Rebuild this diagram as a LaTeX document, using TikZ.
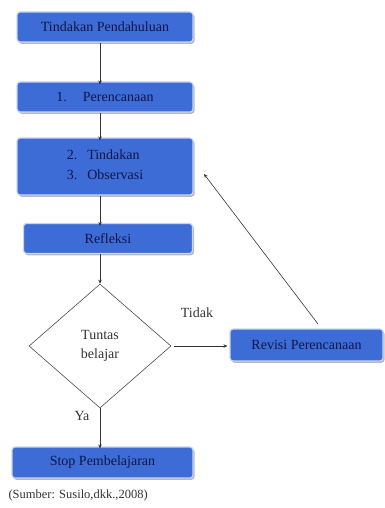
\documentclass[tikz,border=0pt]{standalone}
\usepackage{fontspec}
\setmainfont{Liberation Serif}
\usetikzlibrary{shapes.geometric,shadows,arrows.meta}
\definecolor{boxblue}{RGB}{62,108,214}
\definecolor{boxedge}{RGB}{200,212,242}
\definecolor{navy}{RGB}{14,22,70}
\begin{document}
\begin{tikzpicture}[x=1pt,y=-1pt,
  bluebox/.style={rectangle,rounded corners=3pt,fill=boxblue,draw=boxedge,line width=1.2pt,
    text=navy,font=\fontsize{14}{16}\selectfont,inner sep=0pt,
    drop shadow={shadow xshift=1.5pt,shadow yshift=-1.8pt,fill=black!35,opacity=0.8}},
  conn/.style={draw=black!80,line width=0.6pt,-{Stealth[length=4pt,width=3.5pt]}},
  lbl/.style={font=\fontsize{14}{19}\selectfont,text=black!80}]
\useasboundingbox (0,0) rectangle (385,508);
\node[bluebox,minimum width=176pt,minimum height=30pt] (b1) at (105,27) {Tindakan Pendahuluan};
\node[bluebox,minimum width=176pt,minimum height=30pt] (b2) at (105,97) {1.\hspace{16pt}Perencanaan};
\node[bluebox,minimum width=176pt,minimum height=57pt] (b3) at (105,166.5)
  {\begin{tabular}{@{}l@{\hspace{10pt}}l@{}}2. & Tindakan\\[4pt] 3. & Observasi\end{tabular}};
\node[bluebox,minimum width=169pt,minimum height=30pt] (b4) at (108,238.5) {Refleksi};
\node[diamond,draw=black!70,line width=0.6pt,fill=white,minimum width=142pt,minimum height=124pt,
  inner sep=0pt,align=center,lbl] (d) at (100,346) {Tuntas\\belajar};
\node[bluebox,minimum width=153pt,minimum height=32pt] (rev) at (306.5,345) {Revisi Perencanaan};
\node[bluebox,minimum width=181pt,minimum height=31pt] (stop) at (102.5,462.5) {Stop Pembelajaran};
\node[lbl] (tidak) at (197,313) {Tidak};
\node[lbl] (ya) at (82,416) {Ya};
\node[lbl,anchor=west,font=\fontsize{12.5}{14}\selectfont] (src) at (5,495) {(Sumber: Susilo,dkk.,2008)};
\coordinate (back) at (204,174);
\coordinate (revtop) at (318,324);
\draw[conn] (b1.south -| d.north) -- ([yshift=-3pt]b2.north -| d.north);
\draw[conn] (b2.south -| d.north) -- ([yshift=-3pt]b3.north -| d.north);
\draw[conn] (b3.south -| d.north) -- ([yshift=-3pt]b4.north -| d.north);
\draw[conn] (b4.south -| d.north) -- (d.north);
\draw[conn] ([xshift=3pt]d.east) -- ([xshift=-2pt]d.east -| rev.west);
\draw[conn] (d.south) -- ([yshift=-2pt]stop.north -| d.south);
\draw[conn] (revtop) -- (back);
\end{tikzpicture}
\end{document}
